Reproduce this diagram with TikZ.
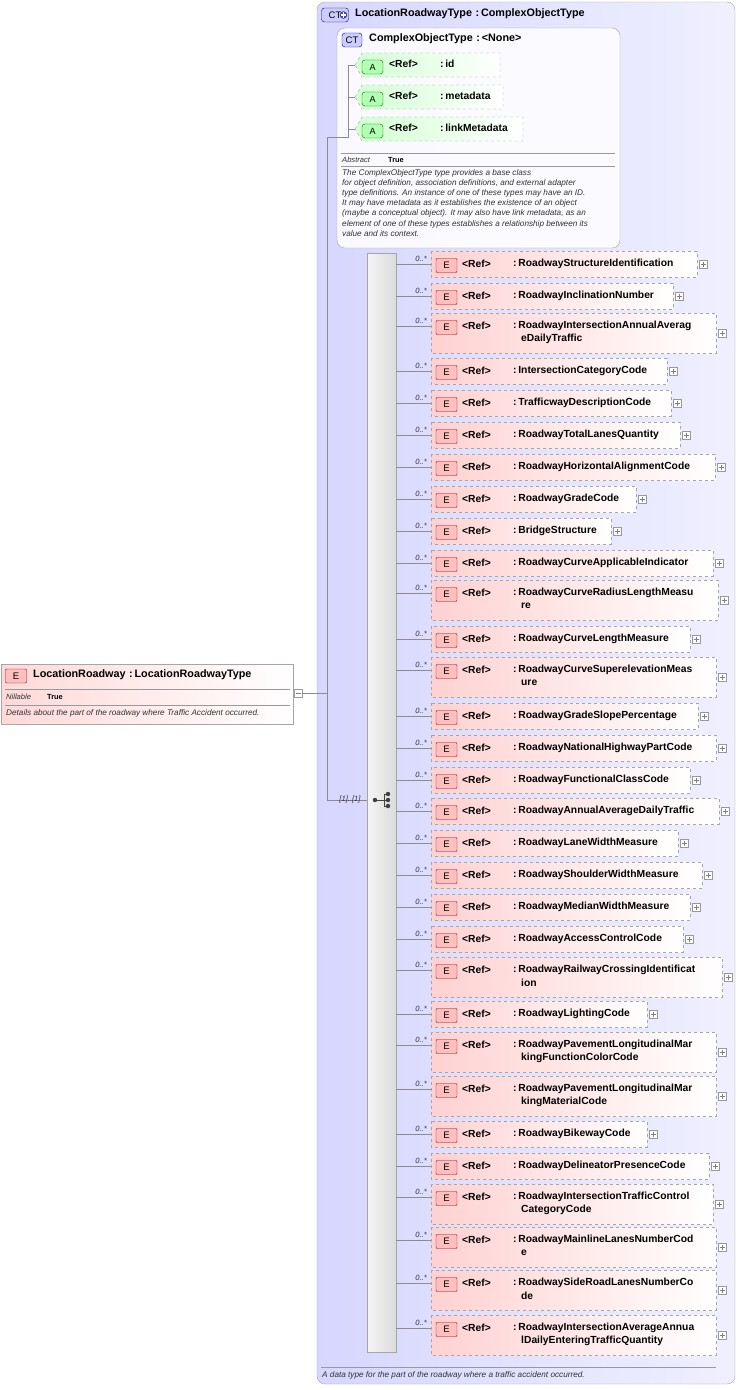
\documentclass[tikz,border=0pt]{standalone}
\usepackage{fontspec}
\setmainfont{Liberation Sans}
\begin{document}
\begin{tikzpicture}[x=1pt,y=-1pt,
  nm/.style={inner sep=0pt,anchor=west,font=\fontsize{10.3}{12}\selectfont\bfseries},
  it/.style={inner sep=0pt,font=\fontsize{7.6}{9}\selectfont\itshape,text=black!80},
  badgeE/.style={draw=red!60!black,fill=red!25,rounded corners=1pt},
  badgeA/.style={draw=green!40!black,fill=green!30,rounded corners=3pt},
  badgeC/.style={draw=blue!50!black,fill=blue!20,rounded corners=3pt},
  conn/.style={draw=black!45,line width=0.6pt},
  elbox/.style={draw=black!35,dashed,left color=red!18,right color=white},
  atbox/.style={draw=black!35,dashed,left color=green!18,right color=white},
  plusbox/.style={draw=black!40,fill=white,line width=0.4pt}]
\useasboundingbox (0,0) rectangle (739,1390);
\fill[white] (0,0) rectangle (739,1390);
% outer CT
\draw[black!35,rounded corners=8pt,left color=blue!16,right color=blue!6] (317,2) rectangle (735,1384);
\node[badgeC,minimum width=27pt,minimum height=14pt,inner sep=0pt,font=\fontsize{9.5}{10}\selectfont] (ctp) at (335,15) {CT\hspace{9pt}};
\fill[blue!45!black!70] (343.5,15) circle (3.8pt);
\draw[white,line width=1.2pt] (340.8,15)--(346.2,15) (343.5,12.3)--(343.5,17.7);
\node[nm,font=\fontsize{10.8}{12}\selectfont\bfseries] (t1) at (355,14) {LocationRoadwayType\,\,:\,ComplexObjectType};
% inner CT
\draw[black!35,rounded corners=8pt,fill=white,fill opacity=0.85] (337,28) rectangle (620,248);
\node[badgeC,minimum width=20pt,minimum height=14pt,inner sep=0pt,font=\fontsize{9.5}{10}\selectfont] (ct) at (352,40) {CT};
\node[nm,font=\fontsize{10.8}{12}\selectfont\bfseries] (t2) at (369,39) {ComplexObjectType\,\,:\,<None>};
% attributes
\foreach \c/\r/\n [count=\i] in {65/500/id,97/503/metadata,129/523/linkMetadata}{
  \draw[atbox] (355,\c) -- (362,\c-12) -- (\r,\c-12) -- (\r,\c+12) -- (362,\c+12) -- cycle;
  \node[badgeA,minimum width=21pt,minimum height=14pt,inner sep=0pt,font=\fontsize{9}{10}\selectfont] (a\i) at (372.5,\c+2) {A};
  \node[nm] (ar\i) at (389,\c-1) {<Ref>};
  \node[nm] (an\i) at (440,\c-1) {:\,\n};
  \draw[conn] (348,\c) -- (355,\c);
}
\draw[conn] (348,65) -- (348,137) -- (327,137);
\draw[black!40] (341,153) -- (615,153) (341,166) -- (615,166);
\node[it,anchor=west] (abs) at (342,160) {Abstract};
\node[inner sep=0pt,anchor=west,font=\fontsize{7.4}{9}\selectfont\bfseries] (abt) at (388,159.5) {True};
\node[it,anchor=north west,align=left,font=\fontsize{8.2}{10.2}\selectfont\itshape] (desc) at (342,169) {The ComplexObjectType type provides a base class\\for object definition, association definitions, and external adapter\\type definitions. An instance of one of these types may have an ID.\\It may have metadata as it establishes the existence of an object\\(maybe a conceptual object). It may also have link metadata, as an\\element of one of these types establishes a relationship between its\\value and its context.};
% compositor
\draw[black!35,left color=black!4,right color=black!14] (367,253) rectangle (396,1352);
\coordinate (seqin) at (367,800);
\draw[conn] (327,137) -- (327,800) -- (seqin);
\node[it,anchor=south] (mult) at (350,803) {[1]..[1]};
\draw[black!75,line width=0.9pt] (375,800) -- (384,800) (384,794) -- (384,806) (384,794)--(388,794) (384,806)--(388,806) (384,800)--(388,800);
\foreach \p in {(375,800),(388,794),(388,800),(388,806)} \fill[black!75] \p circle[radius=2.2];
% elements
\foreach \c/\d/\r/\a/\b [count=\i] in {
264/0/697/RoadwayStructureIdentification/{},
296/0/673/RoadwayInclinationNumber/{},
333/1/716/RoadwayIntersectionAnnualAverag/eDailyTraffic,
371/0/667/IntersectionCategoryCode/{},
403/0/671/TrafficwayDescriptionCode/{},
435/0/680/RoadwayTotalLanesQuantity/{},
467/0/715/RoadwayHorizontalAlignmentCode/{},
499/0/636/RoadwayGradeCode/{},
531/0/611/BridgeStructure/{},
563/0/713/RoadwayCurveApplicableIndicator/{},
600/1/718/RoadwayCurveRadiusLengthMeasu/re,
639/0/690/RoadwayCurveLengthMeasure/{},
677/1/716/RoadwayCurveSuperelevationMeas/ure,
716/0/698/RoadwayGradeSlopePercentage/{},
748/0/716/RoadwayNationalHighwayPartCode/{},
780/0/690/RoadwayFunctionalClassCode/{},
811/0/719/RoadwayAnnualAverageDailyTraffic/{},
843/0/678/RoadwayLaneWidthMeasure/{},
875/0/702/RoadwayShoulderWidthMeasure/{},
907/0/690/RoadwayMedianWidthMeasure/{},
939/0/683/RoadwayAccessControlCode/{},
977/1/722/RoadwayRailwayCrossingIdentificat/ion,
1014/0/647/RoadwayLightingCode/{},
1052/1/716/RoadwayPavementLongitudinalMar/kingFunctionColorCode,
1096/1/716/RoadwayPavementLongitudinalMar/kingMaterialCode,
1134/0/647/RoadwayBikewayCode/{},
1166/0/709/RoadwayDelineatorPresenceCode/{},
1204/1/713/RoadwayIntersectionTrafficControl/CategoryCode,
1247/1/716/RoadwayMainlineLanesNumberCod/e,
1290/1/716/RoadwaySideRoadLanesNumberCo/de,
1335/1/716/RoadwayIntersectionAverageAnnua/lDailyEnteringTrafficQuantity}{
  \pgfmathsetmacro\h{\d>0 ? 20 : 13}
  \pgfmathsetmacro\t{\d>0 ? \c-7 : \c}
  \draw[elbox] (431,\c-\h) rectangle (\r,\c+\h);
  \node[badgeE,minimum width=21pt,minimum height=14pt,inner sep=0pt,font=\fontsize{9.5}{10}\selectfont] (e\i) at (446.5,\t+1.5) {E};
  \node[nm] (r\i) at (462,\t) {<Ref>};
  \node[nm] (n\i) at (513,\t) {:\,\a};
  \node[nm] (m\i) at (521,\t+13) {\b};
  \draw[conn] (396,\t) -- (431,\t);
  \node[it,anchor=south east] (k\i) at (427,\t-2) {0..*};
  \draw[plusbox] (\r+2,\c-4) rectangle (\r+10,\c+4);
  \draw[black!50,line width=0.4pt] (\r+3.5,\c) -- (\r+8.5,\c) (\r+6,\c-2.5) -- (\r+6,\c+2.5);
}
% bottom
\draw[black!40] (321,1367) -- (716,1367);
\node[it,anchor=west,font=\fontsize{8.2}{9}\selectfont\itshape] (bot) at (322,1375) {A data type for the part of the roadway where a traffic accident occurred.};
% left element
\draw[black!35,left color=red!15,right color=white] (1,664) rectangle (293,724);
\node[badgeE,minimum width=21pt,minimum height=14pt,inner sep=0pt,font=\fontsize{9.5}{10}\selectfont] (le) at (16,676) {E};
\node[nm,font=\fontsize{10.8}{12}\selectfont\bfseries] (lt) at (33,675) {LocationRoadway\,\,:\,LocationRoadwayType};
\draw[black!40] (5,689) -- (290,689) (5,705) -- (290,705);
\node[it,anchor=west] (nil) at (6,697) {Nillable};
\node[inner sep=0pt,anchor=west,font=\fontsize{7.4}{9}\selectfont\bfseries] (nilt) at (47,696.5) {True};
\node[it,anchor=west,font=\fontsize{8.2}{9}\selectfont\itshape] (ld) at (6,713) {Details about the part of the roadway where Traffic Accident occurred.};
\draw[plusbox] (294,689) rectangle (302,697);
\draw[black!50,line width=0.4pt] (295.5,693) -- (300.5,693);
\draw[conn] (302,693) -- (327,693);
\end{tikzpicture}
\end{document}
